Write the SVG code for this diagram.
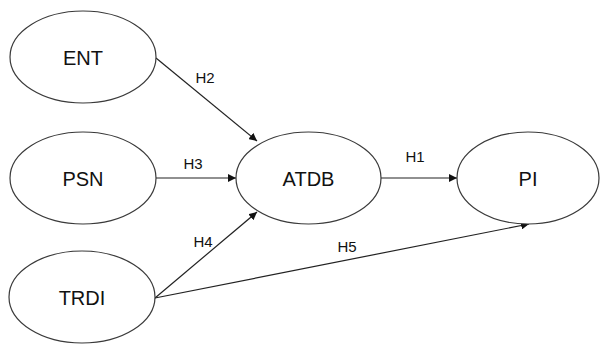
<svg xmlns="http://www.w3.org/2000/svg" width="600" height="345" viewBox="0 0 600 345">
<style>
.node ellipse{fill:#fff;stroke:#3a3a3a;stroke-width:1.2}
.node text{font-family:"Liberation Sans",Arial,sans-serif;font-size:20px;fill:#111;text-anchor:middle}
.edges line{stroke:#222;stroke-width:1.2;marker-end:url(#arr)}
.lbl{font-family:"Liberation Sans",Arial,sans-serif;font-size:15px;fill:#111;text-anchor:middle}
</style>
<defs>
<marker id="arr" viewBox="0 0 10 10" refX="10" refY="5" markerWidth="8" markerHeight="8" markerUnits="userSpaceOnUse" orient="auto">
<path d="M0,0 L10,5 L0,10 z" fill="#111"/>
</marker>
</defs>
<rect width="600" height="345" fill="#fff"/>
<g class="edges">
<line x1="156" y1="58" x2="257" y2="141"/>
<line x1="156" y1="178" x2="236" y2="178"/>
<line x1="155" y1="298" x2="257" y2="212"/>
<line x1="381" y1="178" x2="457" y2="178"/>
<line x1="155" y1="298" x2="529" y2="224"/>
<text class="lbl" x="205" y="83">H2</text>
<text class="lbl" x="193" y="169">H3</text>
<text class="lbl" x="203" y="247">H4</text>
<text class="lbl" x="415" y="162">H1</text>
<text class="lbl" x="347" y="252">H5</text>
</g>
<g id="ENT" class="node"><ellipse cx="83" cy="57" rx="73" ry="46"/><text x="83" y="65">ENT</text></g>
<g id="PSN" class="node"><ellipse cx="83" cy="178" rx="73" ry="46"/><text x="83" y="186">PSN</text></g>
<g id="TRDI" class="node"><ellipse cx="82" cy="297" rx="73" ry="46"/><text x="82" y="305">TRDI</text></g>
<g id="ATDB" class="node"><ellipse cx="308.5" cy="178" rx="72.5" ry="46"/><text x="308.5" y="186">ATDB</text></g>
<g id="PI" class="node"><ellipse cx="528" cy="178" rx="71" ry="46"/><text x="528" y="186">PI</text></g>
</svg>
